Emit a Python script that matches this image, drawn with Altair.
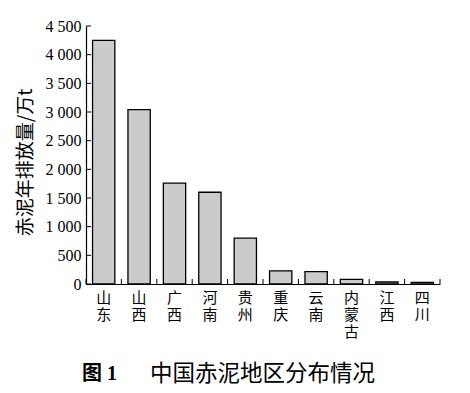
import altair as alt
import pandas as pd

regions = ["山东", "山西", "广西", "河南", "贵州", "重庆", "云南", "内蒙古", "江西", "四川"]
values = [4250, 3040, 1760, 1600, 800, 230, 215, 80, 35, 30]
y_ticks = [0, 500, 1000, 1500, 2000, 2500, 3000, 3500, 4000, 4500]
y_title = "赤泥年排放量/万t"
fig_no = ["图 1"]
caption = "中国赤泥地区分布情况"

W, H = 354, 258
SERIF = "Liberation Serif, Noto Sans CJK SC"
CJK = "Noto Sans CJK SC"

df = pd.DataFrame({"region": regions, "value": values})
tick_df = pd.DataFrame({"value": y_ticks})
fig_df = pd.DataFrame({"label": fig_no})

xscale = alt.Scale(paddingInner=0, paddingOuter=0)
yscale = alt.Scale(domain=[0, 4500], nice=False)

x_axis = alt.Axis(title=caption, labelAngle=0, ticks=False,
                  labelExpr="split(datum.label, '')",
                  labelFont=CJK, labelFontSize=15, labelLineHeight=17,
                  labelPadding=6, labelBaseline="top", labelColor="black",
                  domainColor="black", domainWidth=1.2,
                  titleFont=CJK, titleFontSize=22.5, titleFontWeight="normal",
                  titleColor="black", titleX=176, titleY=96,
                  titleAlign="center", titleBaseline="alphabetic")
y_axis = alt.Axis(title=y_title, values=y_ticks, tickCount=10, ticks=False, grid=False,
                  labelOverlap=False,
                  labelExpr="replace(format(datum.value, ','), ',', ' ')",
                  labelFont=SERIF, labelFontSize=16, labelPadding=5,
                  labelColor="black", domainColor="black", domainWidth=1.2,
                  titleFont=CJK, titleFontSize=19, titleFontWeight="normal",
                  titleColor="black", titleX=-61, titleY=136, titleAngle=270,
                  titleAlign="center", titleBaseline="middle")

bars = alt.Chart(df).mark_bar(
    width=alt.RelativeBandSize(0.63), fill="#cbcbcb", stroke="black", strokeWidth=1.3
).encode(
    x=alt.X("region:N", sort=regions, scale=xscale, axis=x_axis),
    y=alt.Y("value:Q", scale=yscale, axis=y_axis),
)

xticks = alt.Chart(df).mark_rule(color="black", strokeWidth=1).encode(
    x=alt.X("region:N", sort=regions, scale=xscale, axis=x_axis, bandPosition=0),
    y=alt.value(H), y2=alt.value(H - 5),
)
xtick_end = alt.Chart(df).transform_filter(alt.datum.region == regions[-1]).mark_rule(
    color="black", strokeWidth=1
).encode(
    x=alt.X("region:N", sort=regions, scale=xscale, axis=x_axis, bandPosition=1),
    y=alt.value(H), y2=alt.value(H - 5),
)
yticks = alt.Chart(tick_df).mark_rule(color="black", strokeWidth=1).encode(
    y=alt.Y("value:Q", scale=yscale, axis=y_axis),
    x=alt.value(0), x2=alt.value(5),
)
fig_label = alt.Chart(fig_df).mark_text(
    font=SERIF, fontSize=20, fontWeight="bold", align="left", baseline="alphabetic",
    color="black"
).encode(text="label:N", x=alt.value(-4), y=alt.value(354))

chart = alt.layer(bars, xticks, xtick_end, yticks, fig_label).properties(
    width=W, height=H,
    autosize=alt.AutoSizeParams(type="none"),
    padding={"left": 78, "top": 18, "right": 10, "bottom": 104},
).configure(background="white").configure_view(stroke=None)

chart.save("out.html", embed_options={"renderer": "svg", "actions": False})
